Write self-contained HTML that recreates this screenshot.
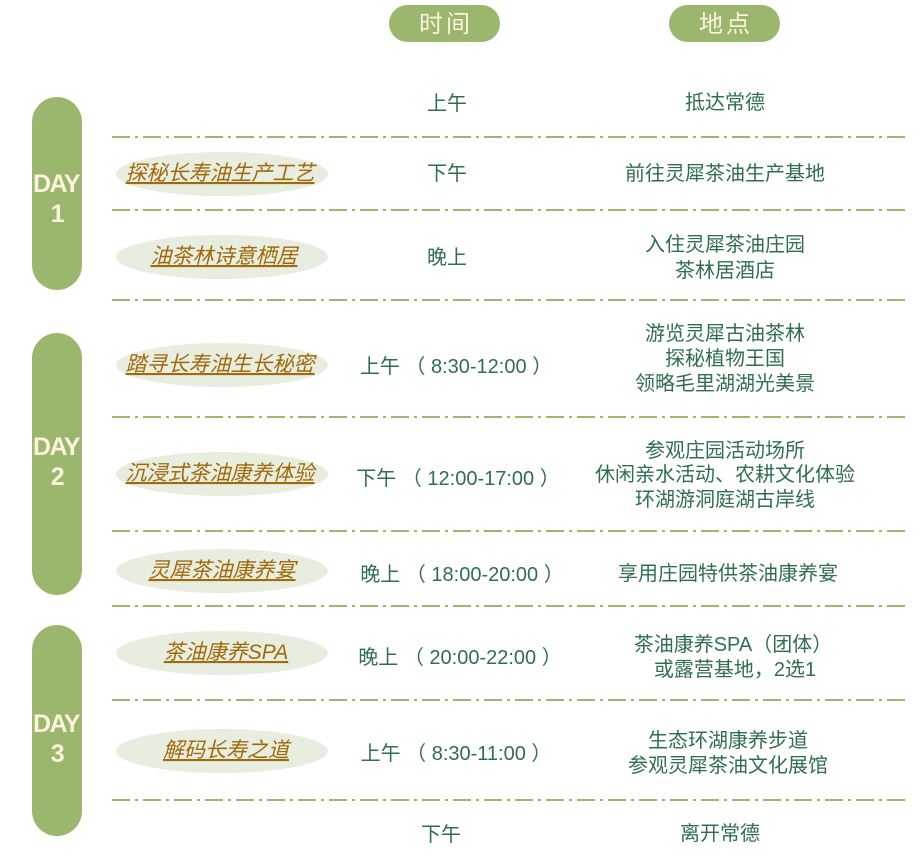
<!DOCTYPE html>
<html><head><meta charset="utf-8"><style>
html,body{margin:0;padding:0;background:#fff;width:914px;height:856px;overflow:hidden}
svg{display:block}
.t{font-family:"Liberation Sans","Noto Sans CJK SC",sans-serif;font-size:20px;fill:#2f6f4f;text-anchor:middle}
.h{font-family:"Liberation Sans","Noto Sans CJK SC",sans-serif;font-size:24px;fill:#fdf2dc;text-anchor:middle;letter-spacing:3px}
.d{font-family:"Liberation Sans","Noto Sans CJK SC",sans-serif;font-size:25px;font-weight:bold;fill:#fdf2dc;text-anchor:middle;letter-spacing:-1.5px}
.e{font-family:"Liberation Sans","Noto Sans CJK SC",sans-serif;font-size:21px;font-style:italic;fill:#a0690a;text-anchor:middle;text-decoration:underline}
</style></head><body>
<svg width="914" height="856" viewBox="0 0 914 856">
<g fill="#9bb76e">
<rect x="389" y="5" width="111" height="37" rx="18.5"/>
<rect x="669" y="5" width="111" height="37" rx="18.5"/>
<rect x="32" y="97" width="50" height="193" rx="25"/>
<rect x="32" y="333" width="50" height="262" rx="25"/>
<rect x="32" y="625" width="50" height="211" rx="25"/>
</g>
<text class="h" x="446" y="32">时间</text>
<text class="h" x="726" y="32">地点</text>
<text class="d" x="56" y="192">DAY</text><text class="d" x="57" y="222">1</text>
<text class="d" x="56" y="455">DAY</text><text class="d" x="57" y="485">2</text>
<text class="d" x="56" y="732">DAY</text><text class="d" x="57" y="762">3</text>
<g stroke="#9bb76e" stroke-width="2" stroke-dasharray="18 5 3 5">
<line x1="112" y1="137" x2="906" y2="137"/>
<line x1="112" y1="210" x2="906" y2="210"/>
<line x1="112" y1="300" x2="906" y2="300"/>
<line x1="112" y1="417" x2="906" y2="417"/>
<line x1="112" y1="531" x2="906" y2="531"/>
<line x1="112" y1="606" x2="906" y2="606"/>
<line x1="112" y1="700" x2="906" y2="700"/>
<line x1="112" y1="800" x2="906" y2="800"/>
</g>
<g fill="#e8eedf">
<ellipse cx="222" cy="174" rx="106" ry="22"/>
<ellipse cx="222" cy="257" rx="106" ry="22"/>
<ellipse cx="222" cy="365" rx="106" ry="22"/>
<ellipse cx="222" cy="474" rx="106" ry="22"/>
<ellipse cx="222" cy="571" rx="106" ry="22"/>
<ellipse cx="222" cy="653" rx="106" ry="22"/>
<ellipse cx="222" cy="751" rx="106" ry="22"/>
</g>
<text class="e" x="220" y="180">探秘长寿油生产工艺</text>
<text class="e" x="224" y="263">油茶林诗意栖居</text>
<text class="e" x="220" y="371">踏寻长寿油生长秘密</text>
<text class="e" x="220" y="480">沉浸式茶油康养体验</text>
<text class="e" x="222" y="577">灵犀茶油康养宴</text>
<text class="e" x="226" y="659">茶油康养SPA</text>
<text class="e" x="226" y="757">解码长寿之道</text>

<text class="t" x="447" y="110">上午</text>
<text class="t" x="447" y="180">下午</text>
<text class="t" x="447" y="264">晚上</text>
<text class="t" x="456" y="373">上午 （ 8:30-12:00 ）</text>
<text class="t" x="458" y="485">下午 （ 12:00-17:00 ）</text>
<text class="t" x="462" y="581">晚上 （ 18:00-20:00 ）</text>
<text class="t" x="460" y="664">晚上 （ 20:00-22:00 ）</text>
<text class="t" x="456" y="760">上午 （ 8:30-11:00 ）</text>
<text class="t" x="441" y="841">下午</text>

<text class="t" x="725" y="109">抵达常德</text>
<text class="t" x="725" y="180">前往灵犀茶油生产基地</text>
<text class="t" x="725" y="251">入住灵犀茶油庄园</text>
<text class="t" x="725" y="277">茶林居酒店</text>
<text class="t" x="725" y="340">游览灵犀古油茶林</text>
<text class="t" x="725" y="365">探秘植物王国</text>
<text class="t" x="725" y="390">领略毛里湖湖光美景</text>
<text class="t" x="725" y="457">参观庄园活动场所</text>
<text class="t" x="725" y="481">休闲亲水活动、农耕文化体验</text>
<text class="t" x="725" y="506">环湖游洞庭湖古岸线</text>
<text class="t" x="728" y="580">享用庄园特供茶油康养宴</text>
<text class="t" x="733" y="651">茶油康养SPA（团体）</text>
<text class="t" x="735" y="676">或露营基地，2选1</text>
<text class="t" x="728" y="747">生态环湖康养步道</text>
<text class="t" x="728" y="772">参观灵犀茶油文化展馆</text>
<text class="t" x="720" y="840">离开常德</text>
</svg>
</body></html>
